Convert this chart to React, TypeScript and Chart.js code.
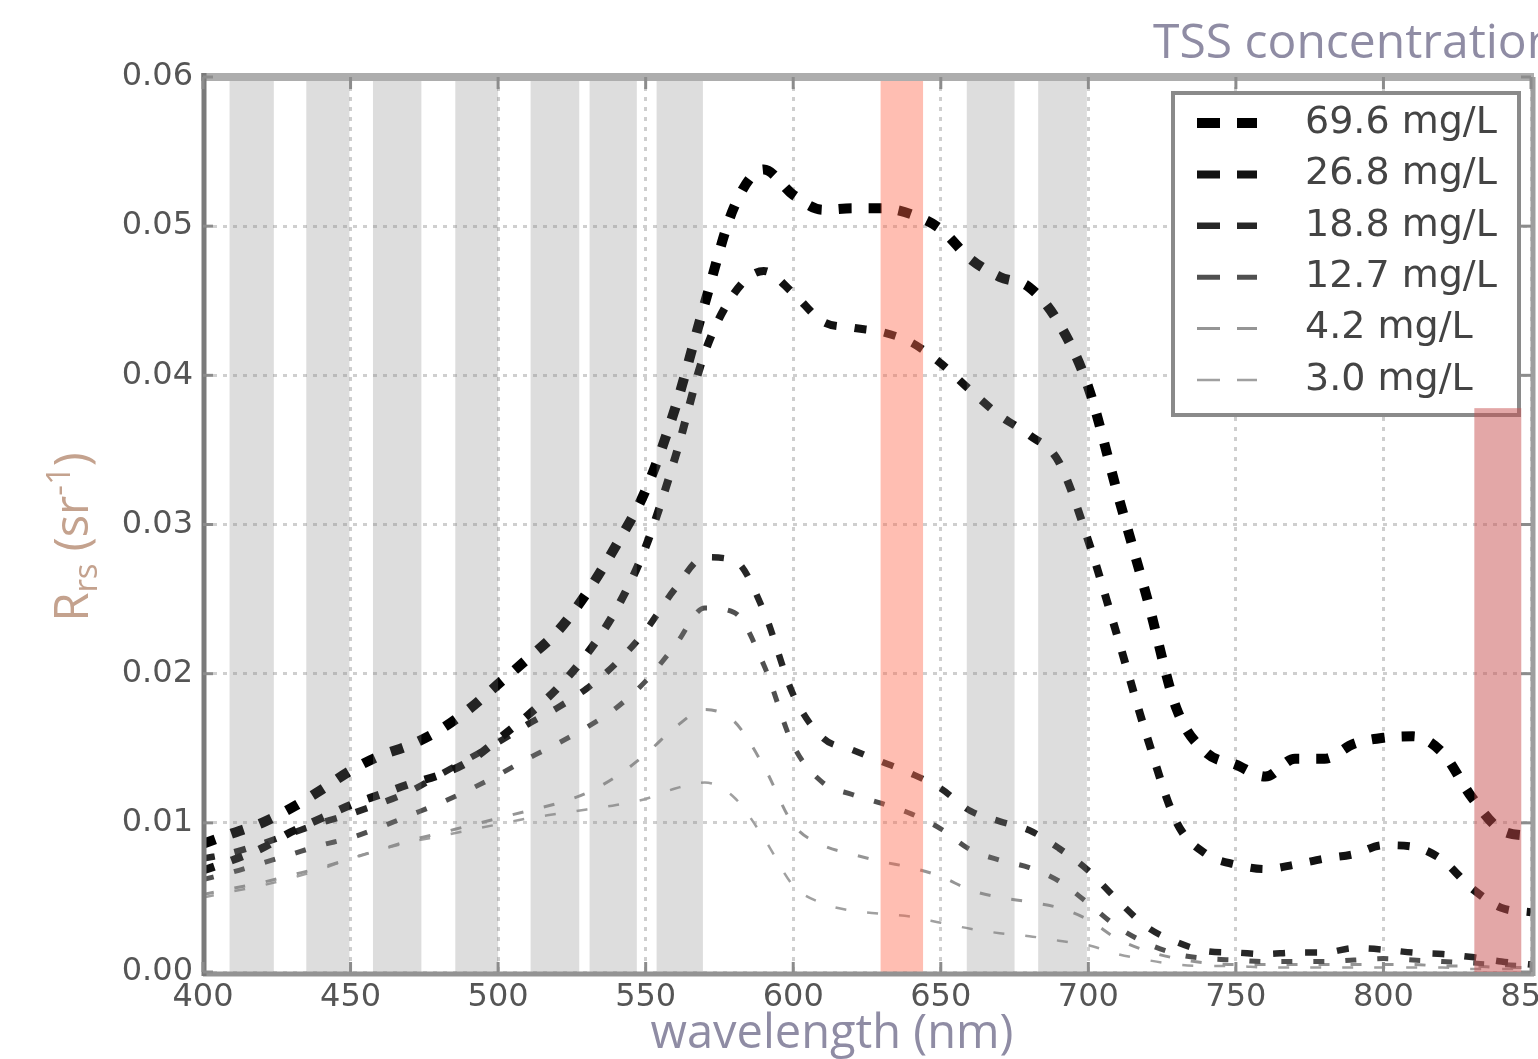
import { useEffect, useRef } from "react";
import { Chart, registerables } from "chart.js";

Chart.register(...registerables);

// ---------- data ----------
const wavelengths = [
  400, 410, 420, 430, 440, 450, 460, 470, 480, 490,
  500, 510, 520, 530, 540, 550, 560, 570, 580, 590,
  600, 610, 620, 630, 640, 650, 660, 670, 680, 690,
  700, 710, 720, 730, 740, 750, 760, 770, 780, 790,
  800, 810, 820, 830, 840, 850,
];

const tss696 = [
  0.0086, 0.0093, 0.0100, 0.0110, 0.0122, 0.0135, 0.0145, 0.0152, 0.0162, 0.0176,
  0.0193, 0.0210, 0.0228, 0.0254, 0.0286, 0.0323, 0.0378, 0.0448, 0.0513, 0.0538,
  0.0521, 0.0511, 0.0512, 0.0512, 0.0508, 0.0498, 0.0478, 0.0466, 0.0459, 0.0435,
  0.0392, 0.0320, 0.0250, 0.0176, 0.0147, 0.0139, 0.0131, 0.0143, 0.0143, 0.0153,
  0.0157, 0.0158, 0.0147, 0.0117, 0.0095, 0.0091,
];

const tss268 = [
  0.0068, 0.0075, 0.0083, 0.0094, 0.0103, 0.0112, 0.0119, 0.0126, 0.0132, 0.0141,
  0.0156, 0.0172, 0.0190, 0.0213, 0.0243, 0.0285, 0.0345, 0.0415, 0.0455, 0.0470,
  0.0455, 0.0436, 0.0432, 0.0429, 0.0422, 0.0408, 0.0390, 0.0373, 0.0360, 0.0342,
  0.0289, 0.0224, 0.0157, 0.0100, 0.0079, 0.0072, 0.0069, 0.0072, 0.0076, 0.0079,
  0.0085, 0.0084, 0.0075, 0.0056, 0.0043, 0.0040,
];

const tss188 = [
  0.0076, 0.0080, 0.0086, 0.0093, 0.0100, 0.0106, 0.0113, 0.0121, 0.0132, 0.0143,
  0.0154, 0.0166, 0.0177, 0.0190, 0.0207, 0.0229, 0.0257, 0.0278, 0.0276, 0.0242,
  0.0186, 0.0157, 0.0149, 0.0141, 0.0133, 0.0123, 0.0108, 0.0101, 0.0095, 0.0083,
  0.0068, 0.0048, 0.0030, 0.0020, 0.0014, 0.0013, 0.0012, 0.0013, 0.0013, 0.0016,
  0.0015, 0.0013, 0.0012, 0.0010, 0.0007, 0.0005,
];

const tss127 = [
  0.0062, 0.0067, 0.0073, 0.0079, 0.0085, 0.0090, 0.0097, 0.0105, 0.0113, 0.0122,
  0.0132, 0.0143, 0.0153, 0.0164, 0.0177, 0.0195, 0.0219, 0.0244, 0.0241, 0.0206,
  0.0152, 0.0127, 0.0119, 0.0113, 0.0106, 0.0096, 0.0082, 0.0075, 0.0070, 0.0061,
  0.0046, 0.0030, 0.0019, 0.0012, 0.0009, 0.0008, 0.0007, 0.0007, 0.0007, 0.0008,
  0.0009, 0.0008, 0.0007, 0.0006, 0.0005, 0.0004,
];

const tss42 = [
  0.0052, 0.0056, 0.0060, 0.0065, 0.0070, 0.0076, 0.0082, 0.0088, 0.0093, 0.0098,
  0.0103, 0.0108, 0.0113, 0.0120, 0.0131, 0.0146, 0.0164, 0.0176, 0.0168, 0.0138,
  0.0099, 0.0085, 0.0079, 0.0074, 0.0070, 0.0064, 0.0055, 0.0050, 0.0047, 0.0043,
  0.0035, 0.0022, 0.0014, 0.0009, 0.0006, 0.0005, 0.0005, 0.0005, 0.0005, 0.0005,
  0.0005, 0.0005, 0.0004, 0.0004, 0.0003, 0.0003,
];

const tss30 = [
  0.0050, 0.0054, 0.0058, 0.0063, 0.0069, 0.0076, 0.0082, 0.0087, 0.0091, 0.0095,
  0.0099, 0.0103, 0.0106, 0.0109, 0.0112, 0.0116, 0.0123, 0.0127, 0.0117, 0.0090,
  0.0058, 0.0046, 0.0041, 0.0039, 0.0037, 0.0033, 0.0029, 0.0026, 0.0024, 0.0021,
  0.0018, 0.0012, 0.0008, 0.0005, 0.0004, 0.0004, 0.0003, 0.0003, 0.0003, 0.0003,
  0.0003, 0.0003, 0.0003, 0.0002, 0.0002, 0.0002,
];

const seriesLabels = ["69.6 mg/L", "26.8 mg/L", "18.8 mg/L", "12.7 mg/L", "4.2 mg/L", "3.0 mg/L"];
const seriesValues = [tss696, tss268, tss188, tss127, tss42, tss30];

// spectral bands (nm)
const greyBands: [number, number][] = [
  [409, 424], [435, 449.6], [457.6, 474], [485.5, 500], [511, 527.5],
  [531, 547], [553.7, 569.4], [658.8, 675], [683, 699.5],
];
const redBand: [number, number] = [629.6, 644];
const darkRedBand: [number, number] = [830.8, 846.7];
const darkRedBandTop = 0.0378;

const xMin = 400, xMax = 850, xStep = 50;
const yMin = 0, yMax = 0.06, yStep = 0.01;

const titleText = "TSS concentration";
const xTitle = "wavelength (nm)";

// ---------- styles ----------
const lineColors = ["#000000", "#111111", "#262626", "#505050", "#959595", "#a0a0a0"];
const lineWidths = [10, 8, 6.5, 5, 3, 2.5];
const lineDashes = [[13, 17], [12, 18], [12, 20], [11, 21], [11, 21], [11, 21]];

const overlayPlugin = {
  id: "overlay",
  afterDatasetsDraw(chart: any) {
    const { ctx, chartArea: a, scales } = chart;
    const x = scales.x, y = scales.y;
    ctx.save();
    // bands
    ctx.fillStyle = "rgba(128,128,128,0.27)";
    for (const [s, e] of greyBands) {
      const x0 = x.getPixelForValue(s), x1 = x.getPixelForValue(e);
      ctx.fillRect(x0, a.top, x1 - x0, a.bottom - a.top);
    }
    ctx.fillStyle = "rgba(255,99,71,0.42)";
    {
      const x0 = x.getPixelForValue(redBand[0]), x1 = x.getPixelForValue(redBand[1]);
      ctx.fillRect(x0, a.top, x1 - x0, a.bottom - a.top);
    }
    // spines
    ctx.lineCap = "butt";
    ctx.strokeStyle = "#adadad";
    ctx.lineWidth = 8;
    ctx.beginPath(); ctx.moveTo(a.left - 2, a.top); ctx.lineTo(a.right + 3, a.top); ctx.stroke();
    ctx.strokeStyle = "#939393";
    ctx.lineWidth = 5;
    ctx.beginPath(); ctx.moveTo(a.left, a.bottom + 2); ctx.lineTo(a.right + 3, a.bottom + 2); ctx.stroke();
    ctx.strokeStyle = "#9e9e9e";
    ctx.beginPath(); ctx.moveTo(a.right + 2, a.top); ctx.lineTo(a.right + 2, a.bottom + 4); ctx.stroke();
    ctx.strokeStyle = "#7a7a7a";
    ctx.beginPath(); ctx.moveTo(a.left + 1, a.top - 4); ctx.lineTo(a.left + 1, a.bottom + 4); ctx.stroke();
    // inward ticks
    ctx.strokeStyle = "#8c8c8c";
    ctx.lineWidth = 3;
    for (let v = xMin; v <= xMax; v += xStep) {
      const px = x.getPixelForValue(v);
      ctx.beginPath(); ctx.moveTo(px, a.top); ctx.lineTo(px, a.top + 12); ctx.stroke();
      ctx.beginPath(); ctx.moveTo(px, a.bottom); ctx.lineTo(px, a.bottom - 10); ctx.stroke();
    }
    for (let i = 0; i <= Math.round((yMax - yMin) / yStep); i++) {
      const py = y.getPixelForValue(yMin + i * yStep);
      ctx.beginPath(); ctx.moveTo(a.left, py); ctx.lineTo(a.left + 10, py); ctx.stroke();
      ctx.beginPath(); ctx.moveTo(a.right, py); ctx.lineTo(a.right - 10, py); ctx.stroke();
    }
    // legend
    const lx = 1173, ly = 93, lw = 346, lh = 322;
    ctx.fillStyle = "#ffffff";
    ctx.fillRect(lx, ly, lw, lh);
    ctx.strokeStyle = "#8a8a8a";
    ctx.lineWidth = 4;
    ctx.strokeRect(lx, ly, lw, lh);
    ctx.font = "38px 'DejaVu Sans'";
    ctx.textBaseline = "middle";
    ctx.textAlign = "left";
    seriesLabels.forEach((lab, i) => {
      const ry = 123 + i * 51.4;
      ctx.strokeStyle = lineColors[i];
      ctx.lineWidth = lineWidths[i];
      ctx.setLineDash([23, 17]);
      ctx.beginPath(); ctx.moveTo(1197, ry); ctx.lineTo(1257, ry); ctx.stroke();
      ctx.setLineDash([]);
      ctx.fillStyle = "#444444";
      ctx.fillText(lab, 1305, ry);
    });
    // dark red band (over legend)
    ctx.fillStyle = "rgba(200,80,80,0.5)";
    {
      const x0 = x.getPixelForValue(darkRedBand[0]), x1 = x.getPixelForValue(darkRedBand[1]);
      const y0 = y.getPixelForValue(darkRedBandTop);
      ctx.fillRect(x0, y0, x1 - x0, a.bottom - y0);
    }
    ctx.restore();
  },
  afterDraw(chart: any) {
    const { ctx, chartArea: a } = chart;
    ctx.save();
    ctx.fillStyle = "#8f8ca4";
    ctx.font = "48px 'Open Sans'";
    ctx.textBaseline = "alphabetic";
    ctx.textAlign = "left";
    ctx.fillText(titleText, 1153, 58);
    ctx.font = "47px 'Open Sans'";
    ctx.textAlign = "center";
    ctx.fillText(xTitle, (a.left + a.right) / 2 - 35, 1048);
    // y title: R_rs (sr^-1)
    ctx.fillStyle = "#c4a28e";
    ctx.translate(88, 537);
    ctx.rotate(-Math.PI / 2);
    ctx.textAlign = "left";
    const big = "47px 'Open Sans'", small = "33px 'Open Sans'";
    const parts = [
      { t: "R", f: big, dy: 0 },
      { t: "rs", f: small, dy: 9 },
      { t: " (sr", f: big, dy: 0 },
      { t: "-1", f: small, dy: -18 },
      { t: ")", f: big, dy: 0 },
    ];
    let total = 0;
    for (const p of parts) { ctx.font = p.f; total += ctx.measureText(p.t).width; }
    let cx = -total / 2;
    for (const p of parts) {
      ctx.font = p.f;
      ctx.fillText(p.t, cx, p.dy);
      cx += ctx.measureText(p.t).width;
    }
    ctx.restore();
  },
};

export default function App() {
  const ref = useRef<HTMLCanvasElement | null>(null);
  useEffect(() => {
    if (!ref.current) return;
    const datasets = seriesValues.map((vals, i) => ({
      label: seriesLabels[i],
      data: wavelengths.map((w, j) => ({ x: w, y: vals[j] })),
      borderColor: lineColors[i],
      borderWidth: lineWidths[i],
      borderDash: lineDashes[i],
      borderCapStyle: "butt",
      pointRadius: 0,
      fill: false,
      cubicInterpolationMode: "monotone",
    }));
    const chart = new Chart(ref.current, {
      type: "line",
      data: { datasets: datasets as any },
      options: {
        animation: false,
        responsive: false,
        layout: { padding: { left: 0, top: 77, right: 7, bottom: 0 } },
        plugins: { legend: { display: false }, tooltip: { enabled: false }, title: { display: false } },
        scales: {
          x: {
            type: "linear",
            min: xMin,
            max: xMax,
            ticks: {
              stepSize: xStep,
              autoSkip: false,
              maxRotation: 0,
              padding: 6,
              color: "#555555",
              font: { family: "DejaVu Sans", size: 32 },
            },
            grid: { color: "#cfcfcf", lineWidth: 3, drawTicks: false },
            border: { display: false, dash: [4, 6] },
            afterFit(scale: any) {
              scale.height = 87;
              scale.paddingLeft = 0;
              scale.paddingRight = 0;
            },
          },
          y: {
            min: yMin,
            max: yMax,
            ticks: {
              stepSize: yStep,
              padding: 10,
              color: "#555555",
              font: { family: "DejaVu Sans", size: 32 },
              callback: (v: any) => Number(v).toFixed(2),
            },
            grid: { color: "#cfcfcf", lineWidth: 3, drawTicks: false },
            border: { display: false, dash: [4, 6] },
            afterFit(scale: any) {
              scale.width = 203;
              scale.paddingTop = 0;
              scale.paddingBottom = 0;
            },
          },
        },
      },
      plugins: [overlayPlugin],
    } as any);
    return () => chart.destroy();
  }, []);
  return (
    <div style={{ position: "absolute", left: 0, top: 0, width: 1538, height: 1059, background: "#ffffff" }}>
      <canvas ref={ref} width={1538} height={1059} style={{ display: "block" }} />
    </div>
  );
}
